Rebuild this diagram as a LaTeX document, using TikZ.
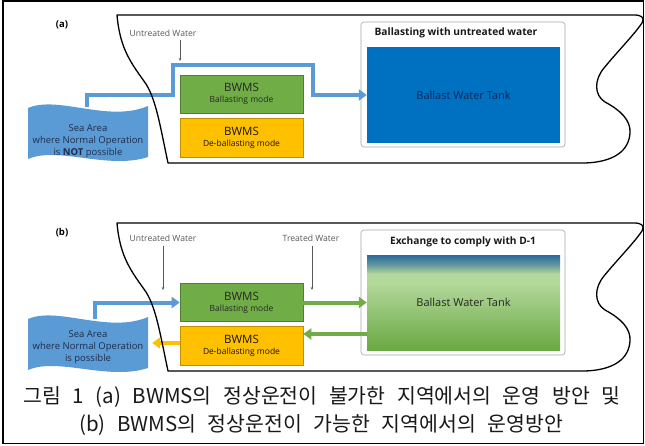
\documentclass[tikz,border=0pt]{standalone}
\usepackage{fontspec}
\setmainfont{Open Sans}
\newfontfamily\kr{Noto Sans CJK KR}
\usetikzlibrary{arrows.meta,calc}
\definecolor{pipeblue}{HTML}{5B9BD5}
\definecolor{seablue}{HTML}{5B9BD5}
\definecolor{seatxt}{HTML}{1F2D4A}
\definecolor{bgreen}{HTML}{70AD47}
\definecolor{bgreenline}{HTML}{507E32}
\definecolor{borange}{HTML}{FFC000}
\definecolor{borangeline}{HTML}{C09000}
\definecolor{tankblue}{HTML}{0070C0}
\definecolor{tanktxt}{HTML}{0A2A5A}
\definecolor{tankdark}{HTML}{2A6A9C}
\definecolor{lgreen}{HTML}{B4D99C}
\definecolor{dgreen}{HTML}{6AA843}
\definecolor{graytxt}{HTML}{595959}
\definecolor{boxline}{HTML}{A6A6A6}
\pgfdeclareverticalshading{tankgrad}{100bp}{color(0bp)=(dgreen); color(25bp)=(dgreen); color(61bp)=(lgreen); color(65bp)=(lgreen); color(70bp)=(lgreen!40!tankdark); color(75bp)=(tankdark); color(100bp)=(tankdark)}
\tikzset{
  hullline/.style={line width=1.3pt, black, line join=round},
  pipeline/.style={line width=4pt, pipeblue, -{Triangle[length=8pt,width=11pt]}},
  garrow/.style={line width=4pt, bgreen, -{Triangle[length=8pt,width=11pt]}},
  yarrow/.style={line width=4pt, borange, -{Triangle[length=8pt,width=11pt]}},
  smallarrow/.style={line width=0.5pt, graytxt, -{Stealth[length=3pt,width=2.5pt]}},
  bwmsg/.style={draw=bgreenline, line width=0.6pt, fill=bgreen, minimum width=123pt, minimum height=38pt, inner sep=0pt, align=center, text=black!85},
  bwmso/.style={draw=borangeline, line width=0.6pt, fill=borange, minimum width=123pt, minimum height=39pt, inner sep=0pt, align=center, text=black!85!brown},
  tankbox/.style={draw=boxline, line width=0.6pt, fill=white, rounded corners=3pt, minimum width=204pt, minimum height=125pt, inner sep=0pt},
  tanktitle/.style={font=\bfseries\fontsize{10.2}{12}\selectfont, text=black!90, inner sep=0pt},
  tanklabel/.style={font=\fontsize{11}{13}\selectfont, inner sep=0pt},
  seabox/.style={minimum width=120pt, minimum height=52pt, inner sep=0pt},
  seatext/.style={font=\fontsize{9.5}{12}\selectfont, text=seatxt, align=center, inner sep=0pt},
  lbl/.style={font=\fontsize{8.6}{10}\selectfont, text=graytxt, inner sep=0pt},
  panellbl/.style={font=\bfseries\fontsize{9.5}{11}\selectfont, inner sep=0pt},
  capt/.style={font=\kr\fontsize{20.5}{22}\selectfont, text=black!90, inner sep=0pt},
  hull/.pic={
    \draw[hullline] (117,15) -- (634,15) .. controls (641,15) and (645,17) .. (642,23)
      .. controls (633,36) and (617,52) .. (604,68)
      .. controls (594,80) and (594,95) .. (605,102)
      .. controls (620,110) and (631,120) .. (630,133)
      .. controls (629,150) and (615,162) .. (585,163)
      -- (168,163)
      .. controls (160,125) and (156,100) .. (146,84)
      .. controls (132,64) and (120,50) .. (117,15) -- cycle;
  }
}
\newcommand{\bw}[1]{{\fontsize{11.5}{13}\selectfont BWMS}\\[-1pt]{\fontsize{8.5}{10}\selectfont #1}}
\newcommand{\capsp}{\spaceskip=11.5pt plus 1pt\relax}
\begin{document}
\begin{tikzpicture}[x=1pt,y=-1pt]
\useasboundingbox (0,0) rectangle (645,445);
\fill[white] (0,0) rectangle (645,445);
\draw[line width=1.3pt] (3,1) rectangle (643.5,443.5);

% ---------------- panel (a) ----------------
\node[panellbl] (la) at (62,25) {(a)};
\node[lbl] (untA) at (163,33) {Untreated Water};
\coordinate (uA) at (180,61);
\draw[smallarrow] ([yshift=-3pt]untA.south -| uA) -- (uA);

\node[tankbox] (boxA) at (463,84.5) {};
\node[tanktitle] (titA) at (456,33) {Ballasting with untreated water};
\node[fill=tankblue, minimum width=193pt, minimum height=96pt, tanklabel, text=tanktxt] (tankA) at (463.5,95) {Ballast Water Tank};

\node[bwmsg] (bwmsA) at (241.5,94) {\bw{Ballasting mode}};
\node[bwmso] (debA) at (241.5,137.5) {\bw{De-ballasting mode}};

\node[seabox] (seaA) at (88,133) {};
\draw[pipeline] ([xshift=-1pt]seaA.north) |- (173,95) |- (313,65) |- (tankA.west);
\fill[seablue] (28,108) .. controls (58,95) and (108,123) .. (148,106)
  -- (148,157) .. controls (108,170) and (58,146) .. (28,159) -- cycle;
\node[seatext] (seaAt) at (88,141) {Sea Area\\where Normal Operation\\is \textbf{NOT} possible};

\pic at (0,0) {hull};

% ---------------- panel (b) ----------------
\node[panellbl] (lb) at (62,233) {(b)};
\node[lbl] (untB) at (163,238) {Untreated Water};
\node[lbl] (trB) at (311,238) {Treated Water};
\coordinate (uB) at (163,290);
\coordinate (tB) at (312,290);
\draw[smallarrow] ([yshift=-4pt]untB.south) -- (uB);
\draw[smallarrow] ([yshift=-4pt]trB.south -| tB) -- (tB);

\node[tankbox] (boxB) at (463,292.5) {};
\node[tanktitle] (titB) at (463,242) {Exchange to comply with D-1};
\node[minimum width=193pt, minimum height=95pt, shading=tankgrad, tanklabel, text=black!85] (tankB) at (463.5,302.5) {Ballast Water Tank};

\node[bwmsg] (bwmsB) at (241.5,302.5) {\bw{Ballasting mode}};
\node[bwmso] (debB) at (241.5,345.5) {\bw{De-ballasting mode}};

\node[seabox] (seaB) at (88,345) {};
\coordinate (g2) at (367,334);
\draw[pipeline] ([xshift=7pt]seaB.north) |- (bwmsB.west);
\draw[garrow] (bwmsB.east) -- (bwmsB.east -| tankB.west);
\draw[garrow] (g2) -- (g2 -| debB.east);
\draw[yarrow] ([yshift=2.5pt]debB.west) -- ([xshift=4pt,yshift=2.5pt]seaB.east |- debB.west);
\fill[seablue] (28,319) .. controls (58,306) and (108,334) .. (148,317)
  -- (148,368) .. controls (108,381) and (58,357) .. (28,370) -- cycle;
\node[seatext] (seaBt) at (88,347) {Sea Area\\where Normal Operation\\is possible};

\pic at (0,208) {hull};

% ---------------- caption ----------------
\node[capt] (cap1) at (322,397) {\capsp 그림 1 (a) BWMS의 정상운전이 불가한 지역에서의 운영 방안 및};
\node[capt] (cap2) at (321,425) {\capsp (b) BWMS의 정상운전이 가능한 지역에서의 운영방안};
\end{tikzpicture}
\end{document}
